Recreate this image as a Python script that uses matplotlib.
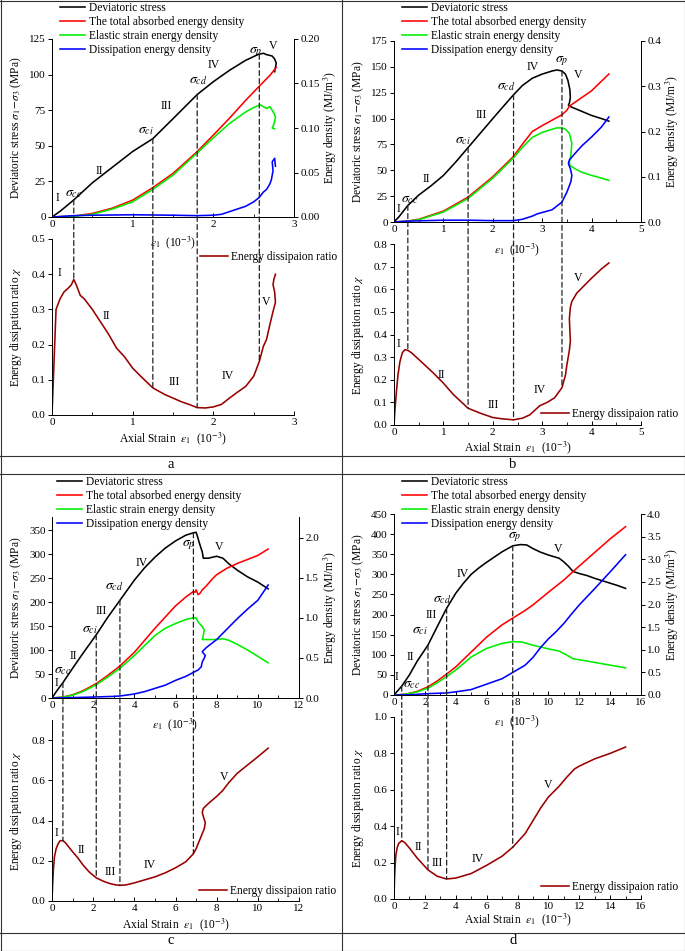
"""
Stress / energy evolution and energy dissipation ratio for four rock samples (a-d)
"""
import numpy as np
import matplotlib
matplotlib.use('Agg')
import matplotlib.pyplot as plt
from matplotlib.patches import ConnectionPatch
from matplotlib.lines import Line2D
from matplotlib.ticker import MultipleLocator, FormatStrFormatter

plt.rcParams['font.family'] = ['Liberation Serif', 'DejaVu Serif']
plt.rcParams['mathtext.fontset'] = 'stix'

# ---------------- panel a ----------------
a_s_x = [0, 0.1, 0.27, 0.5, 0.75, 1.0, 1.25, 1.5, 1.8, 2.0, 2.2, 2.4, 2.55, 2.62, 2.66, 2.70, 2.73, 2.76, 2.78, 2.77, 2.76]
a_s_y = [0, 4, 12, 24, 35, 46, 55, 69, 86, 95, 103, 110, 114, 115, 114, 113.5, 113, 111, 108, 105, 102]
a_t_x = [0, 0.27, 0.5, 0.75, 1.0, 1.25, 1.5, 1.8, 2.0, 2.2, 2.4, 2.57, 2.7, 2.78]
a_t_y = [0, 0.001, 0.004, 0.010, 0.019, 0.033, 0.049, 0.0735, 0.092, 0.111, 0.131, 0.147, 0.159, 0.168]
a_e_x = [0, 0.27, 0.5, 0.75, 1.0, 1.25, 1.5, 1.8, 2.0, 2.2, 2.4, 2.5, 2.58, 2.62, 2.66, 2.70, 2.73, 2.76, 2.77, 2.75, 2.73, 2.76]
a_e_y = [0, 0.0008, 0.003, 0.009, 0.017, 0.031, 0.047, 0.072, 0.089, 0.105, 0.118, 0.123, 0.126, 0.124, 0.122, 0.124, 0.120, 0.115, 0.112, 0.104, 0.100, 0.099]
a_d_x = [0, 0.27, 0.5, 1.0, 1.5, 1.8, 2.0, 2.1, 2.2, 2.3, 2.4, 2.5, 2.57, 2.62, 2.66, 2.70, 2.72, 2.74, 2.73, 2.76, 2.77]
a_d_y = [0, 0.0015, 0.002, 0.0025, 0.002, 0.0015, 0.002, 0.003, 0.006, 0.009, 0.012, 0.017, 0.022, 0.028, 0.031, 0.037, 0.042, 0.052, 0.062, 0.066, 0.057]
a_r_x = [0, 0.02, 0.05, 0.1, 0.15, 0.2, 0.24, 0.27, 0.3, 0.35, 0.4, 0.5, 0.6, 0.7, 0.8, 0.9, 1.0, 1.1, 1.25, 1.4,
         1.5, 1.6, 1.7, 1.8, 1.9, 2.0, 2.1, 2.2, 2.3, 2.4, 2.5, 2.57, 2.62, 2.66, 2.7, 2.74, 2.77, 2.76, 2.74, 2.75, 2.77]
a_r_y = [0, 0.12, 0.30, 0.33, 0.35, 0.36, 0.37, 0.385, 0.37, 0.34, 0.33, 0.30, 0.265, 0.23, 0.19, 0.165, 0.133, 0.11, 0.077, 0.058,
         0.048, 0.038, 0.03, 0.021, 0.02, 0.023, 0.03, 0.048, 0.065, 0.081, 0.11, 0.152, 0.195, 0.215, 0.256, 0.294, 0.32, 0.35, 0.37, 0.385, 0.40]
a_marks = [0.27, 1.25, 1.8, 2.57]

# ---------------- panel b ----------------
b_s_x = [0, 0.1, 0.28, 0.5, 0.75, 1.0, 1.25, 1.5, 1.75, 2.0, 2.2, 2.42, 2.6, 2.8, 3.0, 3.2, 3.3, 3.4, 3.47, 3.52,
         3.56, 3.57, 3.55, 3.53, 3.6, 3.7, 3.85, 4.0, 4.2, 4.35]
b_s_y = [0, 5, 16, 26, 35, 45, 58, 72, 86, 100, 111, 123, 132, 139, 143, 146, 147, 146, 143, 137,
         128, 120, 115, 113, 111, 109, 106, 103, 100, 97.5]
b_t_x = [0, 0.28, 0.5, 1.0, 1.5, 2.0, 2.42, 2.6, 2.8, 3.0, 3.2, 3.4, 3.5, 3.55, 4.0, 4.35]
b_t_y = [0, 0.002, 0.006, 0.024, 0.055, 0.100, 0.145, 0.172, 0.200, 0.213, 0.225, 0.237, 0.247, 0.256, 0.290, 0.327]
b_e_x = [0, 0.28, 0.5, 1.0, 1.5, 2.0, 2.42, 2.6, 2.8, 3.0, 3.2, 3.3, 3.4, 3.47, 3.55, 3.6, 3.58, 3.55, 3.56, 3.66, 3.8, 4.0, 4.2, 4.35]
b_e_y = [0, 0.0015, 0.005, 0.022, 0.052, 0.097, 0.142, 0.165, 0.187, 0.198, 0.205, 0.208, 0.208, 0.205, 0.196, 0.174, 0.148, 0.133, 0.125, 0.118, 0.110, 0.103, 0.097, 0.092]
b_d_x = [0, 0.3, 1.0, 1.5, 2.0, 2.42, 2.6, 2.8, 2.9, 3.0, 3.2, 3.4, 3.5, 3.58, 3.6, 3.57, 3.53, 3.55, 3.66, 3.8, 4.0, 4.2, 4.35]
b_d_y = [0, 0.002, 0.004, 0.004, 0.003, 0.003, 0.006, 0.013, 0.018, 0.021, 0.027, 0.044, 0.066, 0.089, 0.103, 0.118, 0.129, 0.137, 0.151, 0.168, 0.188, 0.210, 0.232]
b_r_x = [0, 0.02, 0.05, 0.08, 0.12, 0.17, 0.22, 0.28, 0.35, 0.45, 0.6, 0.8, 1.0, 1.2, 1.5, 1.75, 2.0, 2.2, 2.42, 2.6,
         2.75, 2.85, 2.95, 3.1, 3.25, 3.4, 3.47, 3.5, 3.55, 3.57, 3.56, 3.55, 3.57, 3.6, 3.7, 3.8, 4.0, 4.2, 4.35]
b_r_y = [0, 0.07, 0.15, 0.22, 0.28, 0.32, 0.333, 0.33, 0.32, 0.30, 0.27, 0.229, 0.185, 0.135, 0.074, 0.052, 0.033, 0.027, 0.023, 0.03,
         0.045, 0.065, 0.085, 0.10, 0.12, 0.165, 0.22, 0.266, 0.33, 0.37, 0.42, 0.47, 0.52, 0.546, 0.583, 0.605, 0.649, 0.69, 0.716]
b_marks = [0.28, 1.5, 2.42, 3.4]

# ---------------- panel c ----------------
c_s_x = [0, 0.25, 0.53, 1.0, 1.5, 2.15, 2.7, 3.3, 4.0, 4.5, 5.0, 5.5, 6.0, 6.5, 6.87, 7.0, 7.05, 7.15, 7.3, 7.35,
         7.6, 8.0, 8.3, 8.6, 9.0, 9.5, 10.0, 10.5]
c_s_y = [0, 16, 32, 62, 93, 132, 168, 204, 246, 272, 294, 313, 328, 340, 345, 346, 340, 325, 305, 292,
         292, 296, 292, 280, 267, 253, 242, 228]
c_t_x = [0, 0.53, 1.0, 1.5, 2.15, 2.7, 3.3, 4.0, 5.0, 6.0, 6.5, 6.87, 6.95, 7.0, 7.1, 7.2, 7.3, 7.5, 7.8, 8.0, 8.5, 9.0, 9.5, 10.0, 10.5]
c_t_y = [0, 0.012, 0.04, 0.09, 0.18, 0.28, 0.40, 0.57, 0.87, 1.15, 1.26, 1.33, 1.32, 1.35, 1.29, 1.31, 1.35, 1.40, 1.49, 1.54, 1.62, 1.68, 1.73, 1.78, 1.86]
c_e_x = [0, 0.53, 1.0, 1.5, 2.15, 2.7, 3.3, 4.0, 5.0, 5.5, 6.0, 6.5, 6.87, 7.0, 7.1, 7.3, 7.4, 7.35, 7.3, 7.5,
         8.0, 8.3, 8.6, 9.0, 9.5, 10.0, 10.5]
c_e_y = [0, 0.01, 0.035, 0.08, 0.165, 0.26, 0.37, 0.53, 0.78, 0.87, 0.93, 0.98, 1.0, 1.0, 0.95, 0.89, 0.85, 0.78, 0.73, 0.73,
         0.73, 0.74, 0.72, 0.67, 0.60, 0.52, 0.44]
c_d_x = [0, 0.53, 1.0, 2.0, 3.0, 3.3, 4.0, 4.5, 5.0, 5.5, 6.0, 6.5, 6.87, 7.1, 7.25, 7.3, 7.4, 7.45, 7.35, 7.3,
         7.5, 8.0, 8.5, 9.0, 9.5, 10.0, 10.5]
c_d_y = [0, 0.002, 0.005, 0.012, 0.02, 0.025, 0.05, 0.08, 0.12, 0.16, 0.22, 0.27, 0.32, 0.35, 0.39, 0.45, 0.50, 0.53, 0.56, 0.58,
         0.63, 0.73, 0.86, 0.99, 1.11, 1.22, 1.41]
c_r_x = [0, 0.03, 0.07, 0.12, 0.2, 0.3, 0.4, 0.53, 0.65, 0.8, 1.0, 1.25, 1.5, 1.8, 2.15, 2.5, 2.8, 3.1, 3.3, 3.6,
         4.0, 4.5, 5.0, 5.5, 6.0, 6.5, 6.87, 7.0, 7.2, 7.4, 7.45, 7.38, 7.3, 7.35, 7.6, 8.0, 8.3, 8.6, 9.0, 9.5, 10.0, 10.5]
c_r_y = [0, 0.08, 0.16, 0.22, 0.26, 0.285, 0.30, 0.30, 0.29, 0.27, 0.245, 0.215, 0.18, 0.145, 0.115, 0.098, 0.087, 0.08, 0.078, 0.08,
         0.09, 0.105, 0.12, 0.14, 0.165, 0.195, 0.235, 0.26, 0.31, 0.36, 0.39, 0.41, 0.44, 0.46, 0.485, 0.52, 0.55, 0.59, 0.635, 0.676, 0.717, 0.76]
c_marks = [0.53, 2.15, 3.3, 6.87]

# ---------------- panel d ----------------
d_s_x = [0, 0.5, 1.0, 1.5, 2.2, 2.8, 3.4, 4.0, 4.5, 5.0, 5.5, 6.0, 6.5, 7.0, 7.7, 8.2, 8.6, 9.0, 9.5, 10.0,
         10.7, 11.0, 11.3, 11.6, 12.0, 12.5, 13.0, 13.5, 14.0, 14.5, 15.0]
d_s_y = [0, 22, 50, 84, 124, 170, 215, 253, 278, 300, 316, 330, 343, 356, 371, 374, 373, 364, 355, 348,
         340, 331, 320, 307, 302, 297, 290, 284, 278, 272, 265]
d_t_x = [0, 0.5, 1.0, 1.5, 2.2, 2.8, 3.4, 4.0, 5.0, 6.0, 7.0, 7.7, 8.5, 9.0, 10.0, 11.0, 11.7, 12.0, 13.0, 14.0, 15.0]
d_t_y = [0, 0.01, 0.035, 0.08, 0.18, 0.31, 0.46, 0.62, 0.95, 1.28, 1.55, 1.70, 1.87, 1.99, 2.27, 2.54, 2.76, 2.85, 3.15, 3.45, 3.72]
d_e_x = [0, 0.5, 1.0, 1.5, 2.2, 2.8, 3.4, 4.0, 5.0, 6.0, 7.0, 7.7, 8.3, 9.0, 10.0, 10.7, 11.2, 11.6, 12.0, 13.0, 14.0, 15.0]
d_e_y = [0, 0.008, 0.03, 0.07, 0.15, 0.27, 0.405, 0.55, 0.84, 1.03, 1.14, 1.18, 1.17, 1.10, 1.02, 0.97, 0.88, 0.80, 0.78, 0.72, 0.66, 0.60]
d_d_x = [0, 1.0, 2.2, 3.4, 4.0, 5.0, 6.0, 7.0, 7.7, 8.5, 9.0, 9.5, 10.0, 10.5, 11.0, 11.5, 12.0, 13.0, 14.0, 15.0]
d_d_y = [0, 0.005, 0.03, 0.045, 0.07, 0.12, 0.24, 0.36, 0.50, 0.66, 0.83, 1.05, 1.24, 1.40, 1.58, 1.79, 1.99, 2.35, 2.72, 3.10]
d_r_x = [0, 0.03, 0.07, 0.12, 0.2, 0.3, 0.5, 0.7, 1.0, 1.5, 2.2, 2.8, 3.4, 4.0, 5.0, 6.0, 7.0, 7.7, 8.5, 9.0,
         9.5, 10.0, 10.7, 11.2, 11.7, 12.0, 13.0, 14.0, 15.0]
d_r_y = [0, 0.10, 0.18, 0.24, 0.28, 0.305, 0.32, 0.31, 0.28, 0.225, 0.16, 0.125, 0.11, 0.115, 0.14, 0.185, 0.235, 0.285, 0.36, 0.43,
         0.50, 0.56, 0.62, 0.67, 0.715, 0.73, 0.77, 0.80, 0.835]
d_marks = [0.5, 2.2, 3.41, 7.69]

stage_names = ['I', 'II', 'III', 'IV', 'V']
sigma_names = [r'$\sigma_{cc}$', r'$\sigma_{ci}$', r'$\sigma_{cd}$', r'$\sigma_{p}$']

W, H = 685, 951
fig = plt.figure(figsize=(W / 100, H / 100), dpi=100)

LW = 1.15
FS_TICK = 8
FS_LAB = 8.3


def px_rect(l, t, r, b):
    return [l / W, 1 - b / H, (r - l) / W, (b - t) / H]


def value_at(x, xs, ys):
    xs = np.asarray(xs, float)
    ys = np.asarray(ys, float)
    d = np.diff(xs)
    n = int(np.argmax(d <= 0)) + 1 if np.any(d <= 0) else len(xs)
    return float(np.interp(x, xs[:n], ys[:n]))


def style_axis(ax, xstep, xminor):
    ax.xaxis.set_major_locator(MultipleLocator(xstep))
    ax.xaxis.set_minor_locator(MultipleLocator(xminor))
    ax.tick_params(axis='x', which='major', direction='in', length=3, width=0.7, labelsize=FS_TICK, pad=2)
    ax.tick_params(axis='x', which='minor', direction='in', length=2, width=0.6)
    ax.tick_params(axis='y', which='major', direction='out', length=3, width=0.7, labelsize=FS_TICK, pad=1.5)
    for sp in ax.spines.values():
        sp.set_linewidth(0.7)
    ax.spines['top'].set_visible(False)


def draw_panel(p):
    ax = fig.add_axes(px_rect(*p['top']))
    ax2 = ax.twinx()
    axb = fig.add_axes(px_rect(*p['bot']))
    axb.set_facecolor('none')

    l1, = ax.plot(p['s'][0], p['s'][1], color='black', lw=LW)
    l2, = ax2.plot(p['t'][0], p['t'][1], color='#ff0000', lw=LW)
    l3, = ax2.plot(p['e'][0], p['e'][1], color='#00ee00', lw=LW)
    l4, = ax2.plot(p['d'][0], p['d'][1], color='#0000ff', lw=LW)
    lr, = axb.plot(p['r'][0], p['r'][1], color='#990000', lw=LW)

    for a in (ax, ax2, axb):
        a.set_xlim(*p['xlim'])
    ax.set_ylim(*p['ylim'])
    ax2.set_ylim(*p['y2lim'])
    axb.set_ylim(*p['yblim'])

    style_axis(ax, p['xstep'], p['xminor'])
    style_axis(axb, p['xstep'], p['xminor'])
    ax.yaxis.set_major_locator(MultipleLocator(p['ystep']))
    ax2.yaxis.set_major_locator(MultipleLocator(p['y2step']))
    ax2.yaxis.set_major_formatter(FormatStrFormatter(p['y2fmt']))
    ax2.tick_params(axis='y', direction='out', length=3, width=0.7, labelsize=FS_TICK, pad=1.5)
    ax2.spines['top'].set_visible(False)
    for sp in ax2.spines.values():
        sp.set_linewidth(0.7)
    axb.yaxis.set_major_locator(MultipleLocator(p['ybstep']))
    axb.yaxis.set_major_formatter(FormatStrFormatter('%.1f'))
    axb.spines['right'].set_visible(False)

    ax.set_ylabel(r'Deviatoric stress $\sigma_1\!-\!\sigma_3$ (MPa)', fontsize=FS_LAB)
    ax.yaxis.set_label_coords(p['ylab'], 0.5)
    ax2.set_ylabel(r'Energy density (MJ/m$^3$)', fontsize=FS_LAB)
    ax2.yaxis.set_label_coords(p['y2lab'], 0.5)
    ax.set_xlabel(r'$\varepsilon_1$  (10$^{-3}$)', fontsize=FS_LAB)
    ax.xaxis.set_label_coords(0.5, p['xlab_top'])
    axb.set_ylabel(r'Energy dissipation ratio $\chi$', fontsize=FS_LAB)
    axb.yaxis.set_label_coords(p['ylab'], 0.5)
    axb.set_xlabel(r'Axial Strain  $\varepsilon_1$  (10$^{-3}$)', fontsize=FS_LAB)
    axb.xaxis.set_label_coords(0.5, p['xlab_bot'])

    # stage and threshold labels
    for name, (tx, ty) in zip(stage_names, p['stage_top']):
        ax.text(tx, ty, name, fontsize=8.5, ha='center', va='center')
    for name, (tx, ty) in zip(sigma_names, p['sigma_top']):
        ax.text(tx, ty, name, fontsize=10, ha='center', va='center')
    for name, (tx, ty) in zip(stage_names, p['stage_bot']):
        axb.text(tx, ty, name, fontsize=8.5, ha='center', va='center')

    # dashed threshold lines from stress curve down to the ratio curve
    for xm in p['marks']:
        y_top = value_at(xm, *p['s'])
        y_bot = value_at(xm, *p['r'])
        con = ConnectionPatch(xyA=(xm, y_top), coordsA='data', axesA=ax,
                              xyB=(xm, y_bot), coordsB='data', axesB=axb,
                              color='#222222', lw=0.9, linestyle=(0, (4, 2.5)))
        fig.add_artist(con)

    lx, ly = p['leg_top']
    ax.legend([l1, l2, l3, l4],
              ['Deviatoric stress', 'The total absorbed energy density',
               'Elastic strain energy density', 'Dissipation energy density'],
              loc='upper left', bbox_to_anchor=(lx / W, 1 - ly / H), bbox_transform=fig.transFigure,
              frameon=False, fontsize=8.3, borderpad=0, borderaxespad=0, labelspacing=0.18,
              handlelength=2.2, handletextpad=0.3)
    bx, by = p['leg_bot']
    axb.legend([lr], ['Energy dissipaion ratio'],
               loc='upper left', bbox_to_anchor=(bx / W, 1 - by / H), bbox_transform=fig.transFigure,
               frameon=False, fontsize=8.3, borderpad=0, borderaxespad=0,
               handlelength=2.4, handletextpad=0.3)


panels = [
    dict(top=(52, 39, 294, 217), bot=(52, 239, 294, 415), xlim=(0, 3), xstep=1, xminor=0.5,
         ylim=(0, 125), ystep=25, y2lim=(0, 0.2), y2step=0.05, y2fmt='%.2f', yblim=(0, 0.5), ybstep=0.1,
         s=(a_s_x, a_s_y), t=(a_t_x, a_t_y), e=(a_e_x, a_e_y), d=(a_d_x, a_d_y), r=(a_r_x, a_r_y), marks=a_marks,
         ylab=-0.116, y2lab=1.116, xlab_top=-0.095, xlab_bot=-0.085,
         stage_top=[(0.07, 13), (0.59, 32.6), (1.42, 77.6), (2.0, 107), (2.74, 120)],
         sigma_top=[(0.27, 16.6), (1.16, 61), (1.81, 95), (2.53, 116)],
         stage_bot=[(0.095, 0.403), (0.67, 0.28), (1.51, 0.095), (2.18, 0.112), (2.66, 0.322)],
         leg_top=(60, 2), leg_bot=(200, 251)),
    dict(top=(394, 41, 641, 222), bot=(394, 244, 641, 425), xlim=(0, 5), xstep=1, xminor=0.5,
         ylim=(0, 175), ystep=25, y2lim=(0, 0.4), y2step=0.1, y2fmt='%.1f', yblim=(0, 0.8), ybstep=0.1,
         s=(b_s_x, b_s_y), t=(b_t_x, b_t_y), e=(b_e_x, b_e_y), d=(b_d_x, b_d_y), r=(b_r_x, b_r_y), marks=b_marks,
         ylab=-0.113, y2lab=1.093, xlab_top=-0.105, xlab_bot=-0.077,
         stage_top=[(0.1, 12.3), (0.66, 42), (1.77, 103), (2.8, 150), (3.73, 142)],
         sigma_top=[(0.32, 21.6), (1.4, 79), (2.28, 130), (3.39, 156)],
         stage_bot=[(0.09, 0.36), (0.96, 0.22), (2.0, 0.089), (2.94, 0.155), (3.72, 0.65)],
         leg_top=(402, 2), leg_bot=(541, 408)),
    dict(top=(52, 517, 299, 698), bot=(52, 720, 299, 901), xlim=(0, 12), xstep=2, xminor=1,
         ylim=(0, 378), ystep=50, y2lim=(0, 2.26), y2step=0.5, y2fmt='%.1f', yblim=(0, 0.9), ybstep=0.2,
         s=(c_s_x, c_s_y), t=(c_t_x, c_t_y), e=(c_e_x, c_e_y), d=(c_d_x, c_d_y), r=(c_r_x, c_r_y), marks=c_marks,
         ylab=-0.113, y2lab=1.093, xlab_top=-0.10, xlab_bot=-0.083,
         stage_top=[(0.22, 31), (1.05, 87), (2.37, 182), (4.36, 281), (8.13, 315)],
         sigma_top=[(0.5, 57), (1.83, 144), (3.04, 231), (6.62, 319)],
         stage_bot=[(0.21, 0.337), (1.42, 0.255), (2.83, 0.142), (4.77, 0.18), (8.35, 0.615)],
         leg_top=(57, 476), leg_bot=(199, 885)),
    dict(top=(394, 514, 641, 695), bot=(394, 717, 641, 899), xlim=(0, 16), xstep=2, xminor=1,
         ylim=(0, 450), ystep=50, y2lim=(0, 4.0), y2step=0.5, y2fmt='%.1f', yblim=(0, 1.0), ybstep=0.2,
         s=(d_s_x, d_s_y), t=(d_t_x, d_t_y), e=(d_e_x, d_e_y), d=(d_d_x, d_d_y), r=(d_r_x, d_r_y), marks=d_marks,
         ylab=-0.113, y2lab=1.093, xlab_top=-0.10, xlab_bot=-0.07,
         stage_top=[(0.17, 44), (1.04, 95), (2.44, 199), (4.43, 300), (10.6, 363)],
         sigma_top=[(1.15, 25), (1.68, 160), (3.09, 236), (7.8, 392)],
         stage_bot=[(0.24, 0.37), (1.58, 0.288), (2.83, 0.196), (5.42, 0.218), (10.0, 0.628)],
         leg_top=(402, 476), leg_bot=(541, 881)),
]

for p in panels:
    draw_panel(p)


# table frame and panel letters
def hline(y, x0=0, x1=W):
    fig.add_artist(Line2D([x0 / W, x1 / W], [1 - y / H, 1 - y / H], transform=fig.transFigure,
                          color='#333333', lw=0.8))


def vline(x, y0=0, y1=H):
    fig.add_artist(Line2D([x / W, x / W], [1 - y0 / H, 1 - y1 / H], transform=fig.transFigure,
                          color='#333333', lw=0.8))


for y in (0.5, 455.5, 473.5, 932.5, 950.5):
    hline(y)
for x in (0.5, 342, 684.5):
    vline(x)

for letter, (x, y) in zip(['a', 'b', 'c', 'd'], [(171, 464), (513, 464), (171, 941), (513, 941)]):
    fig.text(x / W, 1 - y / H, letter, ha='center', va='center', fontsize=10.5)

plt.savefig('out.png', dpi=100)
plt.close()
print('saved out.png')
